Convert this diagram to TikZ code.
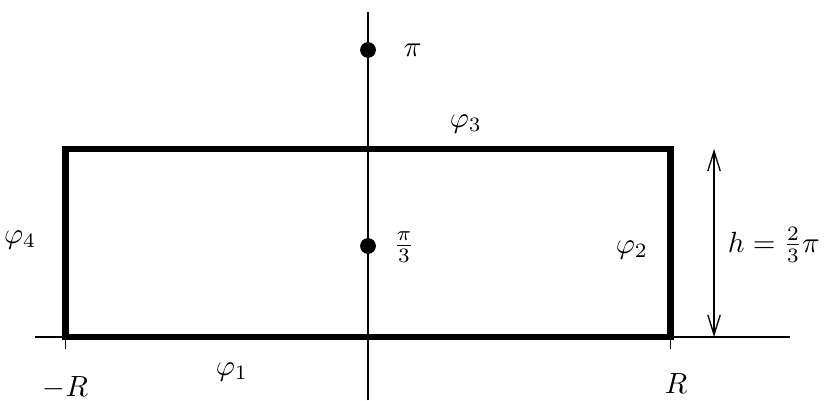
\documentclass[tikz,border=0pt]{standalone}
\usepackage{tikz}
\usetikzlibrary{positioning, arrows.meta}

\begin{document}
\begin{tikzpicture}[
  axis/.style={line width=0.45pt},
  contour/.style={line width=2.2pt, line join=miter},
  pole/.style={circle, fill=black, inner sep=0pt, minimum size=0.19cm},
  measure/.style={{Straight Barb[length=2.4mm,width=1.5mm]}-{Straight Barb[length=2.4mm,width=1.5mm]}, line width=0.45pt}
]
  \useasboundingbox (-4.434,-0.771) rectangle (5.506,4.060);

  % axes
  \coordinate (xl) at (-4.01,0);
  \coordinate (xr) at (5.08,0);
  \coordinate (yb) at (0,-0.76);
  \coordinate (yt) at (0,3.92);
  \draw[axis] (xl) -- (xr);
  \draw[axis] (yb) -- (yt);

  % contour
  \coordinate (sw) at (-3.645,0);
  \coordinate (se) at (3.645,0);
  \coordinate (ne) at (3.645,2.265);
  \coordinate (nw) at (-3.645,2.265);
  \draw[contour] (sw) -- (se) -- (ne) -- (nw) -- cycle;

  % ticks
  \draw[axis] (sw) -- ++(0,-0.14);
  \draw[axis] (se) -- ++(0,-0.14);
  \node (mR) at (-3.645,-0.61) {$-R$};
  \node (pR) at (3.71,-0.56) {$R$};

  % poles
  \node[pole] (p1) at (0,3.458) {};
  \node[pole] (p2) at (0,1.096) {};
  \node (l1) at (0.54,3.458) {$\pi$};
  \node (l2) at (0.434,1.08) {$\frac{\pi}{3}$};

  % sides
  \node (f1) at (-1.64,-0.42) {$\varphi_1$};
  \node (f2) at (3.18,1.05) {$\varphi_2$};
  \node (f3) at (1.18,2.566) {$\varphi_3$};
  \node (f4) at (-4.19,1.17) {$\varphi_4$};

  % height
  \coordinate (hb) at (4.169,0);
  \coordinate (ht) at (4.169,2.265);
  \draw[measure] (hb) -- (ht);
  \node (hl) at (4.89,1.11) {$h=\frac{2}{3}\pi$};
\end{tikzpicture}
\end{document}
